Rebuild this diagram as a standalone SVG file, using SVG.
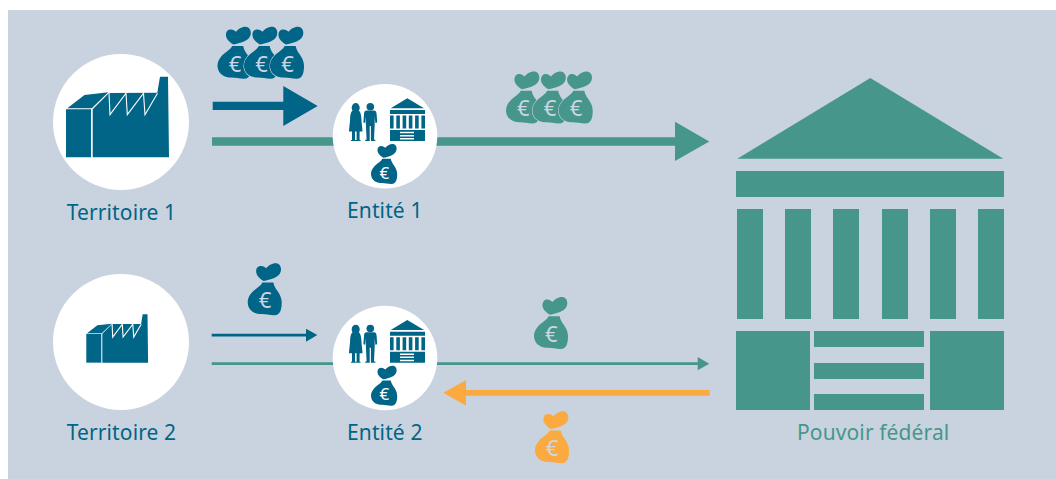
<svg xmlns="http://www.w3.org/2000/svg" width="1056" height="479" viewBox="0 0 1056 479">
<style>
.lbl{font-family:"Noto Sans","Open Sans",sans-serif;font-size:21px;letter-spacing:.12px}
.blue{fill:#006586}.green{fill:#46968b}.orange{fill:#fbaa40}.white{fill:#fff}
.eur{font-family:"Noto Sans","Open Sans",sans-serif;font-size:22px;fill:#cdd6e2;text-anchor:middle}
.eurS{font-family:"Noto Sans","Open Sans",sans-serif;font-size:17px;fill:#fff;text-anchor:middle}
.edge{stroke:#c9d3df;stroke-width:1.2;paint-order:stroke}
</style>
<defs>
<path id="bag" d="M16 17.7C13.5 16.5 11 14.5 9.5 12C8 9.5 8 6 9.8 4C11.5 2.2 14.5 2.2 16.5 3.5L18.5 5C20.5 2.5 24 0 28 0C31.5 0 33.5 3 33.3 6.5C33 10.5 30.5 13 26.5 14.8C23 16.3 19 17.2 16 17.7ZM14.7 19.3H25.7C26 21.5 27 23.5 28.5 26C31 29.5 34 33.5 34 39C34 44 33.5 52 26.5 52C21.5 52 18.5 50.8 14 50.8C7 50.8 1.2 47.5 0.2 41C-0.7 35 2.5 30.5 6.5 27C9.5 24.5 13.3 22.5 14.7 19.3Z"/>
<g id="factory">
<path d="M0 32.6H25V80.6H0Z"/>
<path d="M1.3 31.6L18.5 18.2L42.3 15.6L25.8 31.6Z"/>
<path d="M26.7 80.6V32.6L43 16.2L91.3 16L94 0H102L103 80.6Z"/>
<path d="M43 16L44 38L60 16.5L61.3 38L77.5 16.5L79 38L91.5 16.5" fill="none" stroke="#fff" stroke-width="1.1" vector-effect="non-scaling-stroke"/>
</g>
<g id="entityIcons">
<ellipse cx="355.7" cy="107.8" rx="4" ry="4.8"/>
<path d="M352.6 110.5H358.8C360.8 112 361.3 116 361.4 119C361.5 123 362.5 128 362.5 131.5H349C349 128 350 123 350.1 119C350.2 116 350.6 112 352.6 110.5Z"/>
<path d="M352 131H355V140H356.2V141H351V140H352ZM356.6 131H359.6V140H360.6V141H355.6V140H356.6Z"/>
<circle cx="370.3" cy="106.8" r="3.8"/>
<path d="M366.3 110.5H374.3C376 110.8 376.4 112 376.6 114L377.2 122.5L375.4 123L374.7 116.5V124.5L374 139.8H375.4V141H370.9V126H369.7V141H365.2V139.8H366.6L365.9 124.5V116.5L365.2 123L363.4 122.5L364 114C364.2 112 364.6 110.8 366.3 110.5Z"/>
<path d="M407.3 98.3L424 108.3H390.7Z"/>
<path d="M390 110H425V114H390Z"/>
<path d="M390 115.5h3.6v13h-3.6ZM396.3 115.5h3.6v13h-3.6ZM402.6 115.5h3.6v13h-3.6ZM408.8 115.5h3.6v13h-3.6ZM415.1 115.5h3.6v13h-3.6ZM421.4 115.5h3.6v13h-3.6Z"/>
<path d="M390 130H425V141H390Z"/>
<path d="M400 131.8H414V133.3H400ZM400 134.9H414V136.4H400ZM400 138H414V139.5H400Z" fill="#fff"/>
<use href="#bag" transform="translate(371 144) scale(0.77)"/>
</g>
</defs>
<rect x="8" y="10" width="1048" height="469" fill="#c9d3df"/>

<g id="connectors">
<path class="blue" d="M212.7 101.7H283.3V86L317.7 106L283.3 126V110H212.7Z"/>
<path class="green" d="M212 137.2H675V121.7L709.3 141.4L675 161V145.8H212Z"/>
<path class="blue" d="M211.7 333.7H306V328.7L317.3 335L306 341.7V336.4H211.7Z"/>
<path class="green" d="M211.7 362.3H697.7V357L709.3 363.7L697.7 370.3V365H211.7Z"/>
<path class="orange" d="M709.7 390H466V380L443.3 392.8L466 405.7V395.7H709.7Z"/>
</g>

<g id="territoire1">
<circle class="white" cx="121" cy="122" r="68"/>
<use href="#factory" class="blue" transform="translate(66 76.7)"/>
<text class="lbl blue" x="66.7" y="220">Territoire 1</text>
</g>
<g id="territoire2">
<circle class="white" cx="121" cy="342" r="68"/>
<use href="#factory" class="blue" transform="translate(86.3 314.3) scale(0.6)"/>
<text class="lbl blue" x="66.7" y="440">Territoire 2</text>
</g>
<g id="entite1">
<circle class="white" cx="385" cy="136.3" r="52.3"/>
<use href="#entityIcons" class="blue"/>
<text class="eurS" x="384.3" y="178.5">€</text>
<text class="lbl blue" x="347" y="218.3">Entité 1</text>
</g>
<g id="entite2">
<circle class="white" cx="385" cy="358" r="52.3"/>
<use href="#entityIcons" class="blue" transform="translate(0 221.7)"/>
<text class="eurS" x="384.3" y="400.2">€</text>
<text class="lbl blue" x="347" y="440">Entité 2</text>
</g>
<g id="pouvoir-federal" class="green">
<path d="M870.3 78L1003.3 158.7H737.3Z"/>
<rect x="736" y="171" width="268" height="26"/>
<rect x="737" y="209" width="26" height="110"/>
<rect x="785" y="209" width="26" height="110"/>
<rect x="833" y="209" width="26" height="110"/>
<rect x="882" y="209" width="26" height="110"/>
<rect x="930" y="209" width="26" height="110"/>
<rect x="978" y="209" width="26" height="110"/>
<rect x="736" y="331" width="74" height="79"/>
<rect x="930" y="331" width="74" height="79"/>
<rect x="814" y="331" width="110" height="16"/>
<rect x="814" y="363" width="110" height="16"/>
<rect x="814" y="394" width="110" height="16"/>
<text class="lbl" x="797" y="440">Pouvoir fédéral</text>
</g>

<g id="money-t1" class="blue">
<use href="#bag" transform="translate(217.5 26.8)"/>
<use href="#bag" class="edge" transform="translate(244 26.8)"/>
<use href="#bag" class="edge" transform="translate(270 26.8)"/>
<text class="eur" x="235" y="71.5">€</text><text class="eur" x="261.5" y="71.5">€</text><text class="eur" x="287.5" y="71.5">€</text>
</g>
<g id="money-e1" class="green">
<use href="#bag" transform="translate(506 71.5)"/>
<use href="#bag" class="edge" transform="translate(532.5 71.5)"/>
<use href="#bag" class="edge" transform="translate(558.7 71.5)"/>
<text class="eur" x="523.3" y="116">€</text><text class="eur" x="550" y="116">€</text><text class="eur" x="576" y="116">€</text>
</g>
<g id="money-t2" class="blue">
<use href="#bag" transform="translate(247.7 263.3)"/>
<text class="eur" x="265" y="308">€</text>
</g>
<g id="money-e2" class="green">
<use href="#bag" transform="translate(534 297)"/>
<text class="eur" x="551.3" y="341.5">€</text>
</g>
<g id="money-back" class="orange">
<use href="#bag" transform="translate(535 411.3)"/>
<text class="eur" x="552.3" y="456">€</text>
</g>
</svg>
